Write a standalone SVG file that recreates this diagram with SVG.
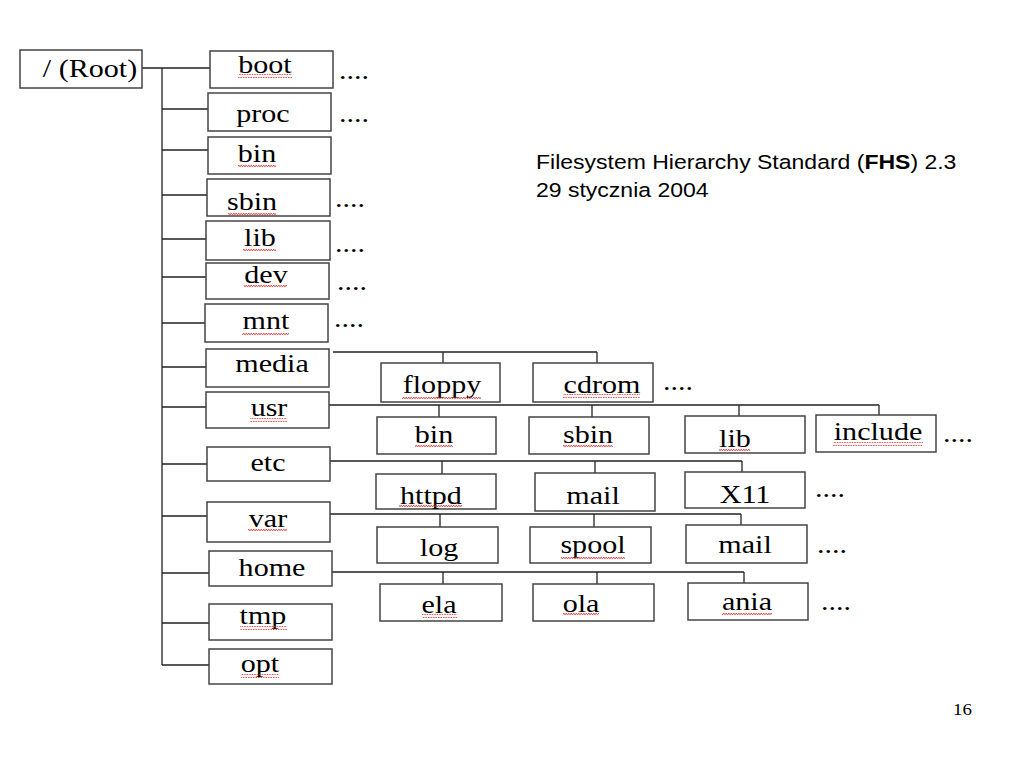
<svg xmlns="http://www.w3.org/2000/svg" width="1023" height="767" viewBox="0 0 1023 767">
<style>
.box{fill:#fff;stroke:#444;stroke-width:1.5}
.ln{fill:none;stroke:#222;stroke-width:1.3}
.t{font-family:"Liberation Serif","Times New Roman",serif;font-size:25.5px;fill:#000;text-anchor:middle}
.d{font-family:"Liberation Serif","Times New Roman",serif;font-size:25.5px;fill:#000}
.s{font-family:"Liberation Sans",Arial,sans-serif;font-size:19.5px;fill:#000}
.sq{fill:url(#wave)}
</style>
<defs>
<pattern id="wave" patternUnits="userSpaceOnUse" width="5" height="4">
<path d="M0 3 L1.25 1 L2.5 3 L3.75 1 L5 3" fill="none" stroke="#d33" stroke-width="0.8"/>
</pattern>
</defs>
<rect width="1023" height="767" fill="#fff"/>
<g id="connectors">
<path class="ln" d="M142 68H210M162 68V665"/>
<path class="ln" d="M162 109H208M162 150H208M162 195H207M162 239H206M162 277H206M162 323H205M162 367H206M162 407H206M162 464H207M162 516H207M162 573H209M162 623H209M162 665H209"/>
<path class="ln" d="M333 352H597M443 352V363M597 352V363"/>
<path class="ln" d="M329 405H879M439 405V417M592 405V417M739 405V416M879 405V415"/>
<path class="ln" d="M330 461H742M442 461V474M595 461V473M742 461V472"/>
<path class="ln" d="M330 514H741M440 514V527M594 514V527M741 514V525"/>
<path class="ln" d="M332 572H744M443 572V584M597 572V584M744 572V583"/>
</g>
<g id="root"><rect class="box" x="20" y="50" width="122" height="38"/><text class="t" transform="translate(90 77) scale(1.18 1)">/ (Root)</text></g>
<g id="boot"><rect class="box" x="210" y="51" width="123" height="37"/><text class="t" transform="translate(265 73) scale(1.18 1)">boot</text><rect class="sq" x="238" y="74" width="54" height="4"/><text class="d" transform="translate(339 79) scale(1.18 1)">....</text></g>
<g id="proc"><rect class="box" x="208" y="93" width="123" height="38"/><text class="t" transform="translate(263 122) scale(1.18 1)">proc</text><text class="d" transform="translate(339 122) scale(1.18 1)">....</text></g>
<g id="bin"><rect class="box" x="208" y="137" width="123" height="37"/><text class="t" transform="translate(257 162) scale(1.18 1)">bin</text><rect class="sq" x="238" y="164" width="38" height="4"/></g>
<g id="sbin"><rect class="box" x="207" y="179" width="123" height="37"/><text class="t" transform="translate(252 210) scale(1.18 1)">sbin</text><rect class="sq" x="228" y="212" width="48" height="4"/><text class="d" transform="translate(335 207) scale(1.18 1)">....</text></g>
<g id="lib"><rect class="box" x="206" y="221" width="124" height="39"/><text class="t" transform="translate(260 246) scale(1.18 1)">lib</text><rect class="sq" x="243" y="248" width="33" height="4"/><text class="d" transform="translate(335 252) scale(1.18 1)">....</text></g>
<g id="dev"><rect class="box" x="206" y="263" width="123" height="36"/><text class="t" transform="translate(266 283) scale(1.18 1)">dev</text><rect class="sq" x="244" y="285" width="43" height="4"/><text class="d" transform="translate(337 290) scale(1.18 1)">....</text></g>
<g id="mnt"><rect class="box" x="205" y="304" width="123" height="38"/><text class="t" transform="translate(266 329) scale(1.18 1)">mnt</text><rect class="sq" x="242" y="331" width="47" height="4"/><text class="d" transform="translate(334 327) scale(1.18 1)">....</text></g>
<g id="media"><rect class="box" x="206" y="349" width="123" height="38"/><text class="t" transform="translate(272 372) scale(1.18 1)">media</text></g>
<g id="usr"><rect class="box" x="206" y="392" width="123" height="36"/><text class="t" transform="translate(269 416) scale(1.18 1)">usr</text><rect class="sq" x="250" y="418" width="37" height="4"/></g>
<g id="etc"><rect class="box" x="207" y="447" width="123" height="34"/><text class="t" transform="translate(268 471) scale(1.18 1)">etc</text></g>
<g id="var"><rect class="box" x="207" y="502" width="123" height="40"/><text class="t" transform="translate(268 527) scale(1.18 1)">var</text><rect class="sq" x="248" y="529" width="39" height="4"/></g>
<g id="home"><rect class="box" x="209" y="551" width="123" height="35"/><text class="t" transform="translate(272 576) scale(1.18 1)">home</text></g>
<g id="tmp"><rect class="box" x="209" y="604" width="123" height="36"/><text class="t" transform="translate(263 624) scale(1.18 1)">tmp</text><rect class="sq" x="240" y="626" width="47" height="4"/></g>
<g id="opt"><rect class="box" x="209" y="649" width="123" height="35"/><text class="t" transform="translate(260 672) scale(1.18 1)">opt</text><rect class="sq" x="241" y="674" width="38" height="4"/></g>
<g id="floppy"><rect class="box" x="381" y="363" width="119" height="39"/><text class="t" transform="translate(442 393) scale(1.18 1)">floppy</text><rect class="sq" x="402" y="395" width="79" height="4"/></g>
<g id="cdrom"><rect class="box" x="533" y="363" width="120" height="39"/><text class="t" transform="translate(602 393) scale(1.18 1)">cdrom</text><rect class="sq" x="563" y="394" width="77" height="4"/><text class="d" transform="translate(663 390) scale(1.18 1)">....</text></g>
<g id="usr-bin"><rect class="box" x="377" y="417" width="119" height="37"/><text class="t" transform="translate(434 443) scale(1.18 1)">bin</text><rect class="sq" x="415" y="445" width="38" height="4"/></g>
<g id="usr-sbin"><rect class="box" x="529" y="417" width="120" height="37"/><text class="t" transform="translate(588 443) scale(1.18 1)">sbin</text><rect class="sq" x="563" y="445" width="50" height="4"/></g>
<g id="usr-lib"><rect class="box" x="685" y="416" width="120" height="37"/><text class="t" transform="translate(735 447) scale(1.18 1)">lib</text><rect class="sq" x="719" y="448" width="31" height="4"/></g>
<g id="include"><rect class="box" x="816" y="415" width="120" height="37"/><text class="t" transform="translate(878 440) scale(1.18 1)">include</text><rect class="sq" x="833" y="442" width="90" height="4"/><text class="d" transform="translate(943 442) scale(1.18 1)">....</text></g>
<g id="httpd"><rect class="box" x="376" y="474" width="120" height="35"/><text class="t" transform="translate(431 504) scale(1.18 1)">httpd</text><rect class="sq" x="399" y="505" width="63" height="4"/></g>
<g id="etc-mail"><rect class="box" x="535" y="473" width="120" height="38"/><text class="t" transform="translate(593 504) scale(1.18 1)">mail</text></g>
<g id="X11"><rect class="box" x="685" y="472" width="120" height="36"/><text class="t" transform="translate(745 503) scale(1.18 1)">X11</text><text class="d" transform="translate(815 497) scale(1.18 1)">....</text></g>
<g id="log"><rect class="box" x="377" y="527" width="121" height="36"/><text class="t" transform="translate(439 556) scale(1.18 1)">log</text></g>
<g id="spool"><rect class="box" x="530" y="527" width="121" height="36"/><text class="t" transform="translate(593 553) scale(1.18 1)">spool</text><rect class="sq" x="561" y="555" width="64" height="4"/></g>
<g id="var-mail"><rect class="box" x="686" y="525" width="121" height="38"/><text class="t" transform="translate(745 553) scale(1.18 1)">mail</text><text class="d" transform="translate(817 553) scale(1.18 1)">....</text></g>
<g id="ela"><rect class="box" x="380" y="584" width="122" height="37"/><text class="t" transform="translate(439 613) scale(1.18 1)">ela</text><rect class="sq" x="422" y="614" width="35" height="4"/></g>
<g id="ola"><rect class="box" x="533" y="584" width="121" height="37"/><text class="t" transform="translate(581 612) scale(1.18 1)">ola</text><rect class="sq" x="563" y="613" width="36" height="4"/></g>
<g id="ania"><rect class="box" x="688" y="583" width="120" height="37"/><text class="t" transform="translate(747 610) scale(1.18 1)">ania</text><rect class="sq" x="722" y="612" width="50" height="4"/><text class="d" transform="translate(821 610) scale(1.18 1)">....</text></g>
<g id="title">
<text class="s" transform="translate(536 169) scale(1.18 1)">Filesystem Hierarchy Standard (<tspan font-weight="bold">FHS</tspan>) 2.3</text>
<text class="s" transform="translate(536 197) scale(1.18 1)">29 stycznia 2004</text>
</g>
<text font-family="Liberation Serif, serif" font-size="16" transform="translate(953 715) scale(1.18 1)">16</text>
</svg>
